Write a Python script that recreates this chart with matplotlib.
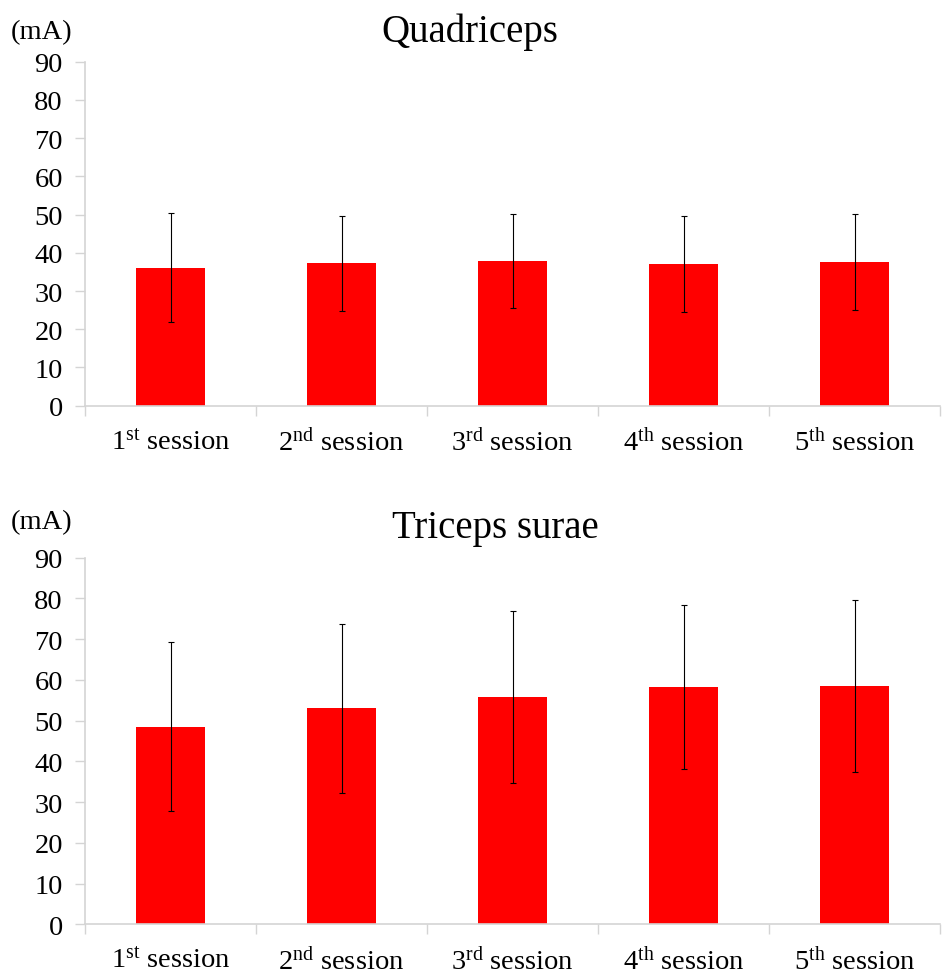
import matplotlib
matplotlib.use("Agg")
import matplotlib.pyplot as plt
import numpy as np

plt.rcParams.update({
    "font.family": "Liberation Serif",
    "mathtext.fontset": "custom",
    "mathtext.rm": "Liberation Serif",
    "mathtext.it": "Liberation Serif",
})

sessions = ["1$^{\\mathrm{st}}$ session", "2$^{\\mathrm{nd}}$ session",
            "3$^{\\mathrm{rd}}$ session", "4$^{\\mathrm{th}}$ session",
            "5$^{\\mathrm{th}}$ session"]
y_ticks = [0, 10, 20, 30, 40, 50, 60, 70, 80, 90]

quad_mean = [36.1, 37.3, 37.8, 37.1, 37.6]
quad_sd = [14.3, 12.4, 12.3, 12.5, 12.5]

tri_mean = [48.5, 53.0, 55.7, 58.2, 58.5]
tri_sd = [20.7, 20.8, 21.1, 20.2, 21.2]

W, H = 942, 979
GRID = "#d4d4d4"


def draw_panel(ax, means, sds, title, title_x):
    x = np.arange(len(means))
    ax.bar(x, means, width=0.4, color="#ff0000", zorder=2)
    ax.errorbar(x, means, yerr=sds, fmt="none", ecolor="black",
                elinewidth=0.8, capsize=2.5, capthick=0.8, zorder=3)
    ax.set_xlim(-0.5, len(means) - 0.5)
    ax.set_ylim(0, 90)
    ax.set_yticks(y_ticks)
    ax.set_xticks(x)
    ax.set_xticklabels(sessions)
    ax.set_xticks(np.arange(len(means) + 1) - 0.5, minor=True)
    ax.tick_params(axis="x", which="major", length=0, pad=16, labelsize=20.5)
    ax.tick_params(axis="x", which="minor", length=7, width=1, color=GRID)
    ax.tick_params(axis="y", length=7, width=1, color=GRID, pad=9, labelsize=20.5)
    for s in ("top", "right"):
        ax.spines[s].set_visible(False)
    for s in ("left", "bottom"):
        ax.spines[s].set_color(GRID)
        ax.spines[s].set_linewidth(1.2)
    ax.set_title(title, fontsize=28, pad=15, x=title_x)


fig = plt.figure(figsize=(W / 100, H / 100), dpi=100)
ax1 = fig.add_axes([85 / W, 1 - 406.7 / H, 855 / W, 344 / H])
ax2 = fig.add_axes([85 / W, 1 - 925.3 / H, 855 / W, 366.7 / H])

draw_panel(ax1, quad_mean, quad_sd, "Quadriceps", (470 - 85) / 855)
draw_panel(ax2, tri_mean, tri_sd, "Triceps surae", (495 - 85) / 855)

fig.text(11 / W, 1 - 33 / H, "(mA)", fontsize=20.5, ha="left", va="center")
fig.text(11 / W, 1 - 523 / H, "(mA)", fontsize=20.5, ha="left", va="center")

fig.savefig("out.png", dpi=100, facecolor="white")
